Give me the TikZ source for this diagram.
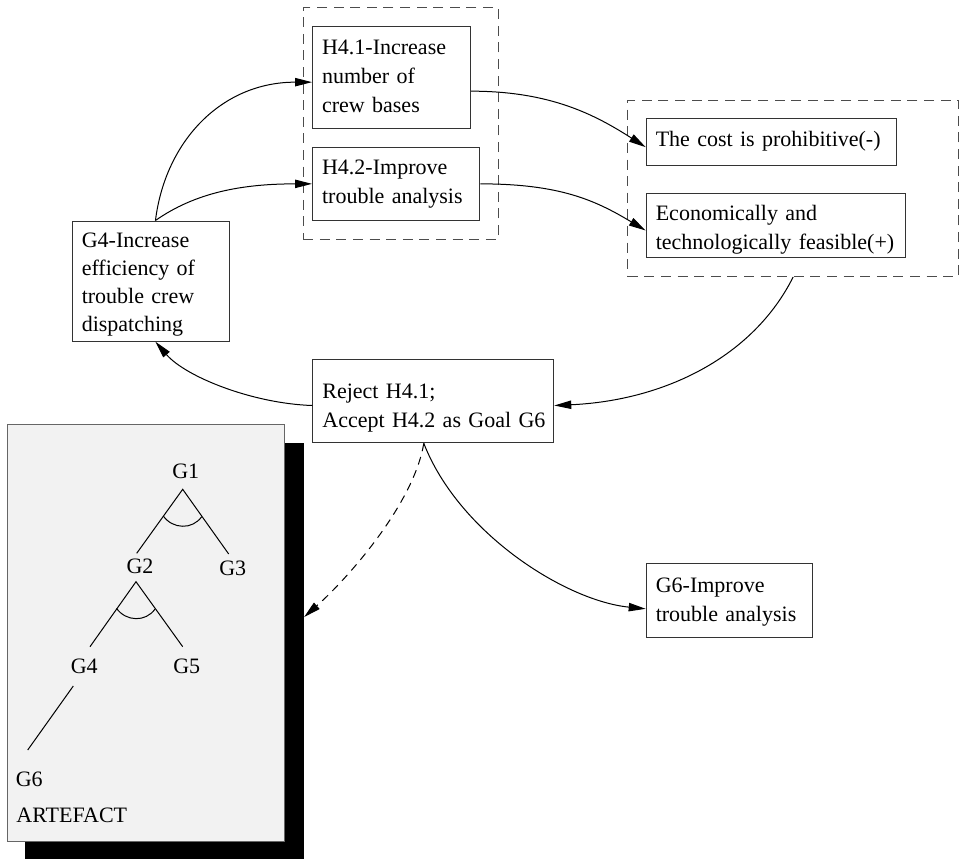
\documentclass[tikz,border=0pt]{standalone}
\usepackage{fontspec}
\setmainfont{Liberation Serif}
\usetikzlibrary{arrows.meta,calc}

\begin{document}
\begin{tikzpicture}[x=0.5pt,y=-0.5pt,
  txt/.style={font=\fontsize{11}{14.5}\selectfont},
  box/.style={txt, draw=black!80, line width=0.5pt, anchor=north west,
    align=left, inner xsep=4.8pt, inner ysep=0pt},
  grp/.style={draw=black!70, line width=0.5pt, dash pattern=on 5pt off 3.3pt,
    anchor=north west, inner sep=0pt},
  lbl/.style={txt, inner sep=0pt},
  arr/.style={line width=0.5pt, -{Triangle[length=8.5pt,width=4.2pt]}},
  tree/.style={line width=0.5pt}]

\useasboundingbox (0,0) rectangle (960,859);

% dashed groups
\node[grp, minimum width=97.5pt, minimum height=115.7pt] (grpA) at (302.7,7.3) {};
\node[grp, minimum width=165.35pt, minimum height=88pt] (grpB) at (627.3,100) {};

% hypotheses, goal and evaluations
\node[box, text width=69.4pt, text height=14pt, text depth=36.85pt] (h41) at (312,26)
  {H4.1-Increase\\number of\\crew bases};
\node[box, text width=74.05pt, text height=13.65pt, text depth=23pt] (h42) at (312,146.7)
  {H4.2-Improve\\trouble analysis};
\node[box, text width=115.55pt, text height=13.7pt, text depth=9.65pt] (cost) at (645.7,118.3)
  {The cost is prohibitive(-)};
\node[box, text width=120.2pt, text height=13.65pt, text depth=18.65pt] (econ) at (645.7,192.7)
  {Economically and\\\mbox{technologically feasible(+)}};
\node[box, font=\fontsize{11}{14}\selectfont, text width=69.05pt, text height=13.1pt,
  text depth=47pt] (g4) at (71.7,220.5)
  {G4-Increase\\efficiency of\\trouble crew\\dispatching};
\node[box, text width=110.9pt, text height=19.5pt, text depth=22pt] (rej) at (312.3,359.3)
  {Reject H4.1;\\\mbox{Accept H4.2 as Goal G6}};
\node[box, text width=73.7pt, text height=14.2pt, text depth=22.8pt] (g6) at (645.7,563.3)
  {G6-Improve\\trouble analysis};

% artefact panel with its shadow
\node[fill=black, anchor=north west, inner sep=0pt, minimum width=139.15pt,
  minimum height=208.15pt] (shadow) at (25,442.7) {};
\node[fill=black!5, draw=black!60, line width=0.5pt, anchor=north west, inner sep=0pt,
  minimum width=138.8pt, minimum height=208.25pt] (panel) at (6.7,424) {};

% goal tree
\node[lbl] (t1) at (185.7,471.7) {G1};
\node[lbl] (t2) at (140,566.7) {G2};
\node[lbl] (t3) at (232.7,568.3) {G3};
\node[lbl] (t4) at (84.3,666.7) {G4};
\node[lbl] (t5) at (186.7,666.7) {G5};
\node[lbl] (t6) at (29.3,779.3) {G6};
\node[lbl, anchor=west] (art) at (16,815) {ARTEFACT};

\coordinate (a1) at (182.7,489.3);
\coordinate (a2) at (136,581.7);
\coordinate (e2) at (136.7,553.3);
\coordinate (e3) at (228.7,554);
\coordinate (e4) at (90,646.7);
\coordinate (e5) at (182.7,646.7);
\coordinate (s4) at (73.3,686);
\coordinate (e6) at (27.7,750);

\draw[tree] (e2) -- (a1) -- (e3);
\draw[tree] (163.3,516) .. controls (172.7,529.2) and (192.3,529.9) .. (201.7,516.7);
\draw[tree] (e4) -- (a2) -- (e5);
\draw[tree] (116.6,608.4) .. controls (126,621.6) and (145.6,622.3) .. (155,609.1);
\draw[tree] (s4) -- (e6);

% connectors
\draw[arr] ([xshift=2.3pt]g4.north) .. controls +(10,-80) and +(-90,0) .. ([yshift=-2.4pt]h41.west);
\draw[arr] ([xshift=2.3pt]g4.north) .. controls +(40,-28) and +(-70,0) .. (h42.west);
\draw[arr] ([yshift=-6.9pt]h41.east) .. controls +(80,0) and +(-50,-32) .. ([yshift=-2.5pt]cost.west);
\draw[arr] (h42.east) .. controls +(80,0) and +(-50,-30) .. ([yshift=-2.5pt]econ.west);
\draw[arr] (grpB.south) .. controls +(-40,80) and +(110,-5) .. ([yshift=-2.1pt]rej.east);
\draw[arr] ([yshift=-2.1pt]rej.west) .. controls +(-60,-2) and +(30,35) .. ([xshift=2.3pt]g4.south);
\draw[arr, dash pattern=on 4pt off 3pt] ([xshift=-4.75pt]rej.south) .. controls +(-10,60) and +(45,-40) .. ([yshift=17.1pt]shadow.east);
\draw[arr] ([xshift=-4.75pt]rej.south) .. controls +(35,90) and +(-80,-8) .. ([yshift=-4pt]g6.west);

\end{tikzpicture}
\end{document}
